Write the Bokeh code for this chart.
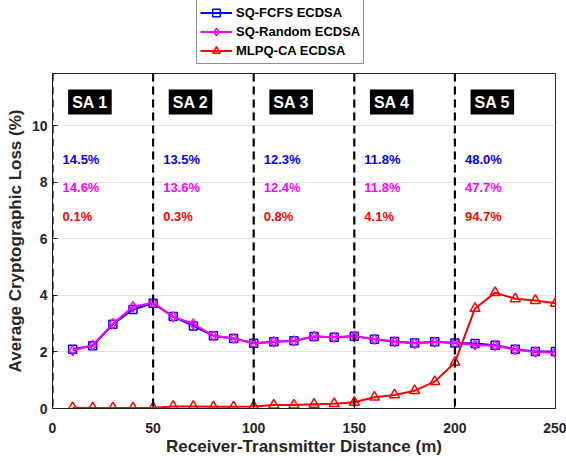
from bokeh.plotting import figure
from bokeh.models import (Range1d, FixedTicker, Span, Legend, LegendItem,
                          ColumnDataSource)
from bokeh.layouts import column
from bokeh.core.properties import value
from bokeh.embed import file_html
from bokeh.resources import INLINE

# ---- data ----
distance = [10, 20, 30, 40, 50, 60, 70, 80, 90, 100, 110, 120, 130, 140, 150,
            160, 170, 180, 190, 200, 210, 220, 230, 240, 250]
sq_fcfs = [2.10, 2.22, 2.98, 3.50, 3.72, 3.25, 2.92, 2.57, 2.48, 2.31, 2.36, 2.40, 2.55,
           2.52, 2.56, 2.45, 2.37, 2.32, 2.36, 2.32, 2.30, 2.24, 2.10, 2.02, 2.02]
sq_random = [2.05, 2.24, 3.00, 3.60, 3.74, 3.25, 2.99, 2.57, 2.48, 2.30, 2.36, 2.39, 2.55,
             2.52, 2.56, 2.45, 2.36, 2.30, 2.35, 2.32, 2.25, 2.22, 2.08, 2.00, 1.98]
mlpq_ca = [0.03, 0.02, 0.02, 0.02, 0.03, 0.07, 0.07, 0.06, 0.06, 0.07, 0.12, 0.12, 0.15,
           0.17, 0.22, 0.40, 0.48, 0.63, 0.95, 1.63, 3.54, 4.10, 3.88, 3.82, 3.72]

zone_starts = [0, 50, 100, 150, 200]
zone_labels = ["SA 1", "SA 2", "SA 3", "SA 4", "SA 5"]
fcfs_pct = ["14.5%", "13.5%", "12.3%", "11.8%", "48.0%"]
random_pct = ["14.6%", "13.6%", "12.4%", "11.8%", "47.7%"]
mlpq_pct = ["0.1%", "0.3%", "0.8%", "4.1%", "94.7%"]

x_ticks = [0, 50, 100, 150, 200, 250]
y_ticks = [0, 2, 4, 6, 8, 10]

series_names = ["SQ-FCFS ECDSA", "SQ-Random ECDSA", "MLPQ-CA ECDSA"]
series_colors = ["#0000ff", "#ff00ff", "#ff0000"]

FONT = "Liberation Sans"
AX = "#262626"

# ---- main figure ----
p = figure(width=566, height=398, min_border_left=52, min_border_right=11,
           min_border_top=7, min_border_bottom=56,
           x_range=Range1d(0, 250), y_range=Range1d(0, 11.85),
           output_backend="svg", toolbar_location=None)
p.background_fill_color = "white"
p.outline_line_color = AX
p.outline_line_width = 1

for ax in (p.xaxis[0], p.yaxis[0]):
    ax.axis_line_color = AX
    ax.major_tick_line_color = AX
    ax.major_tick_in = 5
    ax.major_tick_out = 0
    ax.minor_tick_line_color = None
    ax.major_label_text_font = FONT
    ax.major_label_text_font_style = "bold"
    ax.major_label_text_font_size = "14px"
    ax.major_label_text_color = AX
    ax.axis_label_text_font = FONT
    ax.axis_label_text_font_style = "bold"
    ax.axis_label_text_font_size = "17px"
    ax.axis_label_text_color = AX
p.xaxis.ticker = FixedTicker(ticks=x_ticks)
p.yaxis.ticker = FixedTicker(ticks=y_ticks)
p.xaxis.axis_label = "Receiver-Transmitter Distance (m)"
p.yaxis.axis_label = "Average Cryptographic Loss (%)"
p.xaxis.major_label_standoff = 14
p.xaxis.axis_label_standoff = 1
p.yaxis.major_label_standoff = 5
p.yaxis.axis_label_standoff = 4

p.xgrid.ticker = FixedTicker(ticks=x_ticks)
p.ygrid.ticker = FixedTicker(ticks=y_ticks)
p.grid.grid_line_color = "#e3e3e3"
p.grid.grid_line_width = 1

# zone separators
for xs in zone_starts:
    p.add_layout(Span(location=xs, dimension="height", line_color="black",
                      line_width=2.2, line_dash="8 5"))

# ---- legend figure (sits above the axes) ----
lf = figure(width=566, height=66, min_border=0, x_axis_type=None, y_axis_type=None,
            x_range=Range1d(0, 250), y_range=Range1d(0, 11.85),
            output_backend="svg", toolbar_location=None)
lf.outline_line_color = None

items = []
markers = ["square", "diamond", "triangle"]
msizes = [8, 10, 10]
for name, col, ys, mk, ms in zip(series_names, series_colors,
                                 [sq_fcfs, sq_random, mlpq_ca], markers, msizes):
    src = ColumnDataSource(dict(x=distance, y=ys))
    for fig in (p, lf):
        lr = fig.line("x", "y", source=src, line_color=col, line_width=2)
        mr = fig.scatter("x", "y", source=src, marker=mk, size=ms, line_color=col,
                         line_width=1.5, fill_color=None)
        if fig is lf:
            lr.visible = False
            mr.visible = False
            items.append(LegendItem(label=name, renderers=[lr, mr]))

legend = Legend(items=items, location=(144, 2), orientation="vertical",
                label_text_font=FONT, label_text_font_style="bold",
                label_text_font_size="13px", label_text_color="black",
                glyph_width=32, glyph_height=19, label_height=19, label_standoff=4,
                spacing=0, padding=3, margin=0, click_policy="none",
                border_line_color=AX, border_line_width=1,
                background_fill_color="white", background_fill_alpha=1)
lf.add_layout(legend, "center")

# ---- annotations ----
src_pct = ColumnDataSource(dict(
    x=[z + 5 for z in zone_starts], f=fcfs_pct, r=random_pct, m=mlpq_pct,
    yf=[8.8] * 5, yr=[7.8] * 5, ym=[6.8] * 5))
for col, key, ykey in zip(series_colors, ["f", "r", "m"], ["yf", "yr", "ym"]):
    p.text("x", ykey, text=key, source=src_pct, text_color=col,
           text_font=value(FONT), text_font_style="bold", text_font_size="13px",
           text_baseline="middle", text_align="left")

src_sa = ColumnDataSource(dict(x=[z + 18.6 for z in zone_starts], y=[10.84] * 5,
                               t=zone_labels))
p.text("x", "y", text="t", source=src_sa, text_color="white",
       text_font=value(FONT), text_font_style="bold", text_font_size="16px",
       text_baseline="middle", text_align="center",
       background_fill_color="black", padding=4)

layout = column(lf, p, spacing=0)
open("out.html", "w").write(file_html(layout, INLINE))
